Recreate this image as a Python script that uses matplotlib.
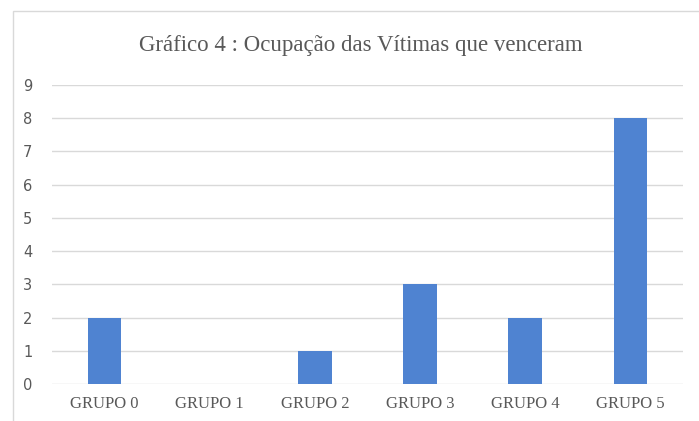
import matplotlib.pyplot as plt
from matplotlib.patches import Rectangle

grupos = ['GRUPO 0', 'GRUPO 1', 'GRUPO 2', 'GRUPO 3', 'GRUPO 4', 'GRUPO 5']
vitimas = [2, 0, 1, 3, 2, 8]

fig = plt.figure(figsize=(6.99, 4.21), dpi=100)
ax = fig.add_axes([52/699, 37/421, 631/699, 299/421])

# moldura do grafico (estilo Excel)
fig.patches.append(Rectangle((13/699, -0.1), 1.2, (421-11)/421 + 0.1,
                             transform=fig.transFigure, fill=False,
                             edgecolor='#d9d9d9', linewidth=1))

x = range(len(grupos))
ax.bar(x, vitimas, width=0.32, color='#4f83d1', zorder=3)

ax.set_xlim(-0.5, len(grupos) - 0.5)
ax.set_ylim(0, 9)
ax.set_yticks(range(0, 10))
ax.grid(axis='y', color='#d9d9d9', linewidth=1, zorder=0)
for s in ax.spines.values():
    s.set_visible(False)
ax.tick_params(length=0)
ax.tick_params(axis='y', colors='#595959', labelsize=10.5, pad=14)
ax.set_xticks(list(x))
ax.set_xticklabels(grupos, family='Liberation Serif', fontsize=12, color='#595959')
ax.tick_params(axis='x', pad=9)

fig.text(361/699, 1 - 45/421, 'Gráfico 4 : Ocupação das Vítimas que venceram',
         family='Liberation Serif', fontsize=16.5, color='#595959',
         ha='center', va='center')

fig.savefig('out.png', dpi=100)
